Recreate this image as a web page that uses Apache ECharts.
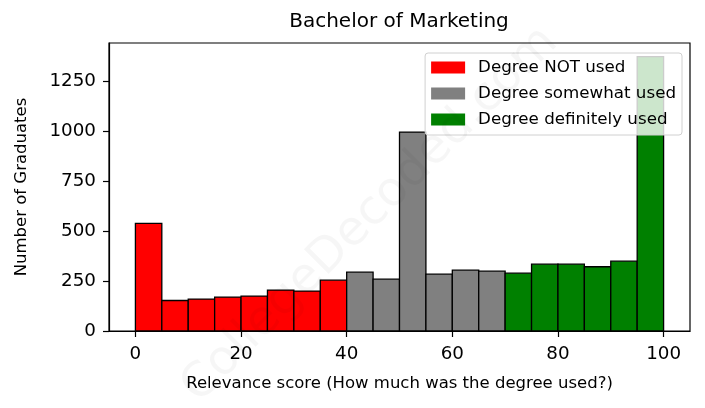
<!DOCTYPE html>
<html>
<head>
<meta charset="utf-8">
<script src="https://cdn.jsdelivr.net/npm/echarts@6/dist/echarts.min.js"></script>
<style>html,body{margin:0;padding:0;background:#fff}#c{width:705px;height:408px}</style>
</head>
<body>
<div id="c"></div>
<script>
const binWidth = 5;
const notUsedStarts = [0, 5, 10, 15, 20, 25, 30, 35];
const notUsedCounts = [540, 153, 160, 170, 175, 205, 200, 255];
const somewhatStarts = [40, 45, 50, 55, 60, 65];
const somewhatCounts = [295, 260, 997, 285, 305, 300];
const definitelyStarts = [70, 75, 80, 85, 90, 95];
const definitelyCounts = [290, 335, 335, 322, 350, 1375];
const xTicks = [0, 20, 40, 60, 80, 100];
const yTicks = [0, 250, 500, 750, 1000, 1250];
const seriesNames = ['Degree NOT used', 'Degree somewhat used', 'Degree definitely used'];
const seriesColors = ['#ff0000', '#808080', '#008000'];

function toData(starts, counts) {
  return starts.map((s, i) => [s, s + binWidth, counts[i]]);
}
function renderItem(params, api) {
  const p0 = api.coord([api.value(0), 0]);
  const p1 = api.coord([api.value(1), api.value(2)]);
  return {
    type: 'rect',
    shape: { x: p0[0], y: p1[1], width: p1[0] - p0[0], height: p0[1] - p1[1] },
    style: { fill: api.visual('color'), stroke: '#000', lineWidth: 1.3 }
  };
}
const groups = [
  toData(notUsedStarts, notUsedCounts),
  toData(somewhatStarts, somewhatCounts),
  toData(definitelyStarts, definitelyCounts)
];
const font = 'DejaVu Sans';
const chart = echarts.init(document.getElementById('c'), null, { renderer: 'canvas' });
chart.setOption({
  animation: false,
  backgroundColor: '#fff',
  title: {
    text: 'Bachelor of Marketing', left: 399, top: 12, textAlign: 'center', padding: 0,
    textStyle: { fontFamily: font, fontSize: 20, fontWeight: 'normal', color: '#000' }
  },
  grid: { left: 109, right: 15, top: 43, bottom: 77, show: true, borderColor: '#000', borderWidth: 1.2, backgroundColor: 'transparent' },
  legend: {
    orient: 'vertical', right: 23, top: 53,
    data: seriesNames,
    icon: 'rect', itemWidth: 34, itemHeight: 12, itemGap: 9,
    padding: [6, 6, 7, 6],
    backgroundColor: 'rgba(255,255,255,0.8)', borderColor: '#d0d0d0', borderWidth: 1, borderRadius: 3,
    textStyle: { fontFamily: font, fontSize: 16.7, color: '#000', padding: [0, 0, 0, 8] },
    z: 10
  },
  xAxis: {
    type: 'value', min: -5, max: 105,
    name: 'Relevance score (How much was the degree used?)', nameLocation: 'middle', nameGap: 44,
    nameTextStyle: { fontFamily: font, fontSize: 16.5, color: '#000' },
    axisLine: { show: true, onZero: false, lineStyle: { color: '#000', width: 1.2 } },
    axisTick: { show: true, customValues: xTicks, length: 6, lineStyle: { color: '#000', width: 1.2 } },
    axisLabel: { customValues: xTicks, fontFamily: font, fontSize: 18.3, color: '#000', margin: 14 },
    splitLine: { show: false }
  },
  yAxis: {
    type: 'value', min: 0, max: 1443.75,
    name: 'Number of Graduates', nameLocation: 'middle', nameGap: 79, nameRotate: 90,
    nameTextStyle: { fontFamily: font, fontSize: 16.5, color: '#000' },
    axisLine: { show: true, onZero: false, lineStyle: { color: '#000', width: 1.2 } },
    axisTick: { show: true, customValues: yTicks, length: 6, lineStyle: { color: '#000', width: 1.2 } },
    axisLabel: { customValues: yTicks, formatter: v => String(v), fontFamily: font, fontSize: 18.3, color: '#000', margin: 13 },
    splitLine: { show: false }
  },
  graphic: [{
    type: 'text', x: 370, y: 215, rotation: Math.PI / 4, z: 100, silent: true,
    style: { text: 'CollegeDecoded.com', fontFamily: font, fontSize: 48, fill: 'rgba(0,0,0,0.035)', align: 'center', verticalAlign: 'middle' }
  }],
  series: groups.map((d, i) => ({
    type: 'custom', name: seriesNames[i], data: d,
    itemStyle: { color: seriesColors[i] },
    encode: { x: [0, 1], y: 2 },
    renderItem: renderItem
  }))
});
</script>
</body>
</html>
